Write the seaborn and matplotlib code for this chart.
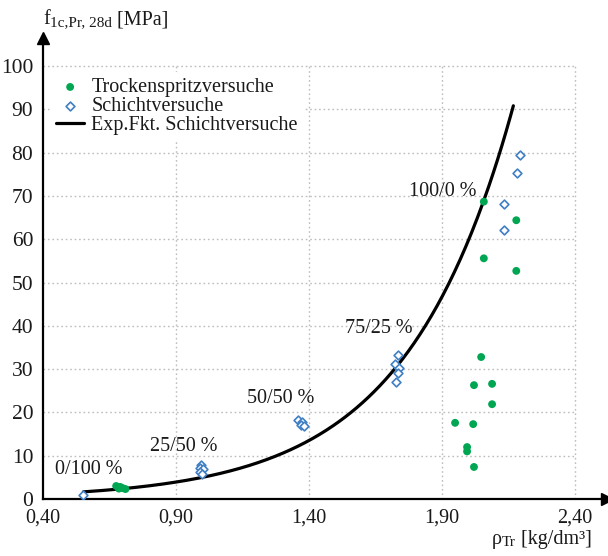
import numpy as np
import pandas as pd
import matplotlib
matplotlib.use("Agg")
import matplotlib.pyplot as plt
import seaborn as sns

# ---------------- data ----------------
dry_x = [0.675, 0.690, 0.700, 0.710, 0.685,
         2.057, 2.179, 2.057, 2.179, 2.047, 2.020, 2.088, 2.088,
         1.949, 2.017, 1.994, 1.994, 2.020]
dry_y = [3.0, 2.8, 2.5, 2.3, 2.4,
         68.7, 64.4, 55.6, 52.7, 32.8, 26.3, 26.6, 21.9,
         17.6, 17.3, 11.0, 12.0, 7.4]

layer_x = [0.549,
           0.995, 0.990, 1.002, 0.992, 0.998,
           1.360, 1.372, 1.368, 1.381,
           1.735, 1.723, 1.740, 1.735, 1.727,
           2.194, 2.182, 2.132, 2.132]
layer_y = [0.9,
           7.9, 7.1, 6.9, 6.3, 5.8,
           18.2, 17.8, 17.1, 16.9,
           33.3, 31.3, 30.2, 29.0, 27.0,
           79.4, 75.2, 68.1, 62.1]

# exponential fit  y = a * exp(b * x)
fit_a = 0.42
fit_b = 2.48
fit_x_range = [0.552, 2.168]

mix_labels = ["0/100 %", "25/50 %", "50/50 %", "75/25 %", "100/0 %"]
mix_label_x = [0.445, 0.802, 1.167, 1.535, 1.776]
mix_label_y = [6.7, 12.1, 23.3, 39.3, 71.1]

x_ticks = [0.40, 0.90, 1.40, 1.90, 2.40]
x_tick_labels = ["0,40", "0,90", "1,40", "1,90", "2,40"]
y_ticks = [0, 10, 20, 30, 40, 50, 60, 70, 80, 90, 100]

legend_labels = ["Trockenspritzversuche", "Schichtversuche", "Exp.Fkt. Schichtversuche"]

# ---------------- style ----------------
sns.set_style("white")
plt.rcParams["font.family"] = ["Liberation Serif", "DejaVu Serif"]
TXT = "#1a1a1a"
GREEN = "#00a651"
BLUE = "#3f7fc4"
FS = 14.5

W, H = 608, 556
fig = plt.figure(figsize=(W / 100, H / 100), dpi=100)
ax = fig.add_axes([43 / W, 57 / H, 564 / W, 461 / H])

# grid (dotted, boxed 0.40-2.40 x 0-100)
ax.hlines(y_ticks[1:], x_ticks[0], x_ticks[-1], colors="#bdbdbd",
          linestyles=(0, (1.2, 2.0)), linewidth=1.0, zorder=0)
ax.vlines(x_ticks[1:], y_ticks[0], y_ticks[-1], colors="#bdbdbd",
          linestyles=(0, (1.2, 2.0)), linewidth=1.0, zorder=0)

sns.scatterplot(x=dry_x, y=dry_y, ax=ax, color=GREEN, s=32, marker="o",
                edgecolor="none", label=legend_labels[0], zorder=4)
sns.scatterplot(x=layer_x, y=layer_y, ax=ax, color="white", s=20, marker="D",
                edgecolor=BLUE, linewidth=1.2, label=legend_labels[1], zorder=4)

x_fit = np.linspace(fit_x_range[0], fit_x_range[1], 300)
y_fit = fit_a * np.exp(fit_b * x_fit)
sns.lineplot(x=x_fit, y=y_fit, ax=ax, color="black", linewidth=2.3,
             label=legend_labels[2], zorder=3, sort=False)

for lab, lx, ly in zip(mix_labels, mix_label_x, mix_label_y):
    ax.text(lx, ly, lab, fontsize=FS, color=TXT, ha="left", va="center", zorder=5)

ax.set_xlim(0.40, 2.52)
ax.set_ylim(0, 106.5)
ax.set_xticks(x_ticks)
ax.set_xticklabels(x_tick_labels)
ax.set_yticks(y_ticks)
ax.set_yticklabels([str(v) for v in y_ticks])
ax.set_xlabel("")
ax.set_ylabel("")

for s in ["top", "right"]:
    ax.spines[s].set_visible(False)
for s in ["left", "bottom"]:
    ax.spines[s].set_linewidth(1.6)
    ax.spines[s].set_color("black")
ax.tick_params(axis="both", direction="out", length=4, width=1.3,
               labelsize=FS, labelcolor=TXT, color="black", pad=3)
ax.tick_params(axis="y", labelsize=15.5)

# arrow heads
ax.plot([1], [0], marker=">", color="black", markersize=8,
        transform=ax.transAxes, clip_on=False, zorder=6)
ax.plot([0], [1], marker="^", color="black", markersize=8,
        transform=ax.transAxes, clip_on=False, zorder=6)

leg = ax.legend(loc="upper left", bbox_to_anchor=(0.0124, 0.926),
                borderaxespad=0, frameon=True, facecolor="white",
                edgecolor="none", framealpha=1, fancybox=False,
                fontsize=FS, handlelength=1.4, handletextpad=0.35,
                labelspacing=0.0, borderpad=0.3)
for t in leg.get_texts():
    t.set_color(TXT)

# y-axis title: f_{1c,Pr, 28d} [MPa]
t1 = fig.text(43 / W, 1 - 24 / H, "f", fontsize=FS, color=TXT,
              ha="left", va="baseline")
t2 = ax.annotate("1c,Pr, 28d", xy=(1, 0), xycoords=t1, fontsize=11,
                 color=TXT, ha="left", va="bottom", annotation_clip=False)
t3 = ax.annotate(" [MPa]", xy=(1, 0), xycoords=t2, fontsize=FS,
                 color=TXT, ha="left", va="bottom", annotation_clip=False)

# x-axis title: rho_Tr [kg/dm³]
u1 = fig.text(492 / W, 12 / H, "ρ", fontsize=FS, color=TXT,
              ha="left", va="baseline")
u2 = ax.annotate("Tr", xy=(1, 0), xycoords=u1, fontsize=11,
                 color=TXT, ha="left", va="bottom", annotation_clip=False)
u3 = ax.annotate(" [kg/dm³]", xy=(1, 0), xycoords=u2, fontsize=FS,
                 color=TXT, ha="left", va="bottom", annotation_clip=False)

fig.savefig("out.png", dpi=100)
